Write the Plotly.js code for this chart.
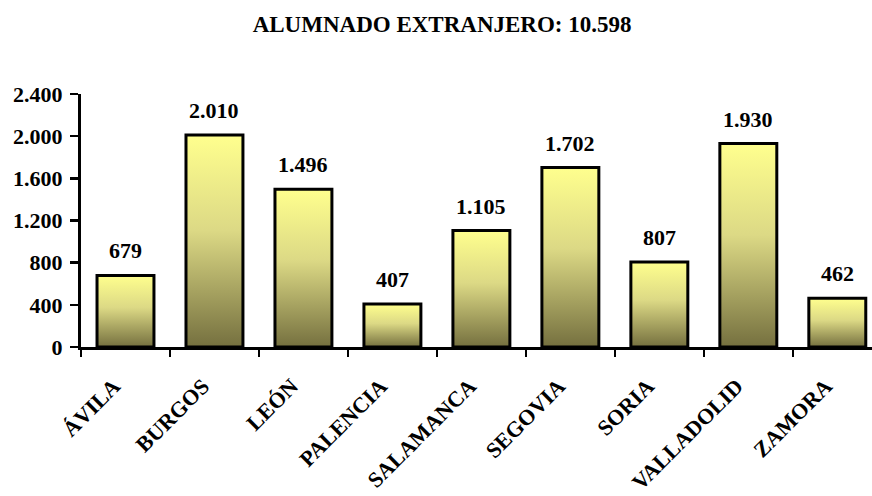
<!DOCTYPE html>
<html>
<head>
<meta charset="utf-8">
<script src="https://cdn.plot.ly/plotly-3.0.1.min.js"></script>
<style>html,body{margin:0;padding:0;background:#fff;}#chart{width:872px;height:496px;}</style>
</head>
<body>
<div id="chart"></div>
<script>
var provincias = ["ÁVILA","BURGOS","LEÓN","PALENCIA","SALAMANCA","SEGOVIA","SORIA","VALLADOLID","ZAMORA"];
var alumnos = [679, 2010, 1496, 407, 1105, 1702, 807, 1930, 462];
var yTicks = [0, 400, 800, 1200, 1600, 2000, 2400];
var yTickLabels = ["0","400","800","1.200","1.600","2.000","2.400"];
var titulo = "ALUMNADO EXTRANJERO: 10.598";

function fmt(v){ return String(v).replace(/\B(?=(\d{3})+(?!\d))/g, "."); }

var font = {family: "Liberation Serif, Times New Roman, serif", color: "#000"};

var trace = {
  type: "bar",
  x: provincias,
  y: alumnos,
  width: 0.64,
  marker: {color: "#D5D27E", line: {color: "#000", width: 3}},
  hoverinfo: "none"
};

var annotations = provincias.map(function(p, i){
  return {x: p, y: alumnos[i], text: "<b>" + fmt(alumnos[i]) + "</b>", showarrow: false,
    yanchor: "bottom", yshift: 10, font: Object.assign({}, font, {size: 22})};
});

var layout = {
  width: 872, height: 496,
  margin: {l: 81, r: 0, t: 94, b: 149},
  paper_bgcolor: "#fff", plot_bgcolor: "#fff",
  showlegend: false,
  title: {text: "<b>" + titulo + "</b>", x: 0.507, xref: "container", xanchor: "center",
    y: 0.952, yref: "container", yanchor: "middle",
    font: Object.assign({}, font, {size: 23})},
  xaxis: {
    type: "category", range: [-0.5, 8.39],
    tickson: "boundaries", ticks: "outside", ticklen: 7, tickwidth: 2.5, tickcolor: "#000",
    showline: true, linecolor: "#000", linewidth: 3, showgrid: false, zeroline: false,
    tickangle: -45, ticklabelstandoff: 3,
    tickfont: Object.assign({}, font, {size: 22}),
    tickvals: provincias, ticktext: provincias.map(function(p){ return "<b>" + p + "</b>\u00A0\u00A0\u00A0"; })
  },
  yaxis: {
    range: [0, 2400], tickvals: yTicks, ticktext: yTickLabels.map(function(t){ return "<b>" + t + "</b>"; }),
    ticks: "outside", ticklen: 8, tickwidth: 2.5, tickcolor: "#000",
    showline: true, linecolor: "#000", linewidth: 3, showgrid: false, zeroline: false,
    ticklabelstandoff: 3,
    tickfont: Object.assign({}, font, {size: 22})
  },
  annotations: annotations
};

Plotly.newPlot("chart", [trace], layout, {staticPlot: true, displayModeBar: false}).then(function(gd){
  var svg = gd.querySelector("svg.main-svg");
  var ns = "http://www.w3.org/2000/svg";
  var defs = svg.querySelector("defs") || svg.insertBefore(document.createElementNS(ns, "defs"), svg.firstChild);
  var g = document.createElementNS(ns, "linearGradient");
  g.setAttribute("id", "barGrad");
  g.setAttribute("x1", "0"); g.setAttribute("y1", "0"); g.setAttribute("x2", "0"); g.setAttribute("y2", "1");
  [["0", "#FFFF8E"], ["0.45", "#DCD985"], ["1", "#75703F"]].forEach(function(s){
    var st = document.createElementNS(ns, "stop");
    st.setAttribute("offset", s[0]); st.setAttribute("stop-color", s[1]);
    g.appendChild(st);
  });
  defs.appendChild(g);
  gd.querySelectorAll(".trace.bars .point path").forEach(function(p){
    p.style.fill = "url(#barGrad)";
    p.style.fillOpacity = 1;
  });
});
</script>
</body>
</html>
